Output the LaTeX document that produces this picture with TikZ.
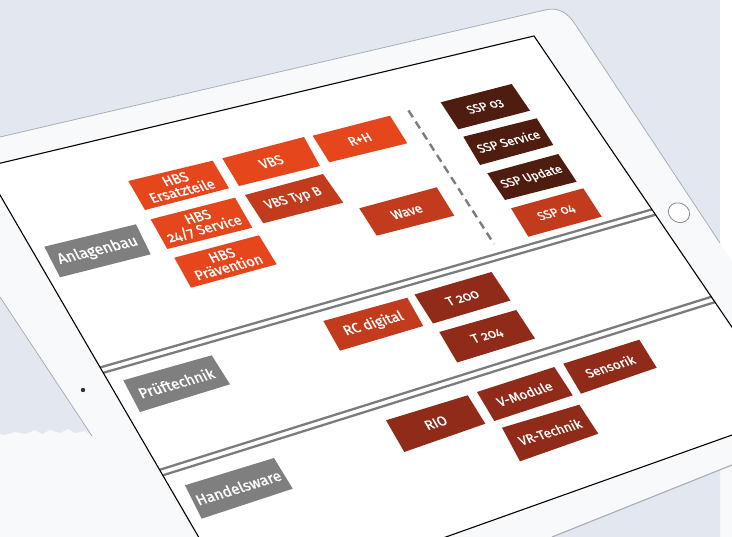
\documentclass[tikz,border=0pt]{standalone}
\usepackage{fontspec}
\setmainfont{Fira Sans}[Numbers=OldStyle]
\newfontfamily\boxfont{Fira Sans}[Numbers=OldStyle,FakeBold=1.2]
\usetikzlibrary{calc}
\definecolor{bgblue}{HTML}{E3E8F0}
\definecolor{bezel}{HTML}{F8F9FA}
\definecolor{bezelline}{HTML}{A8AFB9}
\definecolor{cA}{HTML}{E6461B}
\definecolor{cB}{HTML}{C23B1C}
\definecolor{cC}{HTML}{8F2B18}
\definecolor{cD}{HTML}{4F1D10}
\definecolor{cG}{HTML}{7F7F7F}
\definecolor{sepgray}{HTML}{7C7C7C}
\tikzset{
  btxt/.style={text=white, font=\boxfont\fontsize{12.5}{11.8}\selectfont, align=center, inner sep=0pt},
  sepline/.style={draw=sepgray, line width=2.3pt},
  dashsep/.style={draw=sepgray, line width=2.4pt, dash pattern=on 8pt off 5.2pt},
  screenedge/.style={draw=black, line width=1.1pt, line join=miter},
  bezeledge/.style={draw=bezelline, line width=0.8pt}
}
% name, fill, TL, TR, BR, BL, text transform, text
\newcommand\pbox[8]{%
  \fill[#2] (#3) -- (#4) -- (#5) -- (#6) -- cycle;
  \node[btxt,#7] (#1) at ($($(#3)!0.5!(#5)$)!0.5!($(#4)!0.5!(#6)$)$) {#8};
}
\begin{document}
\begin{tikzpicture}[x=1pt,y=-1pt]
\useasboundingbox (0,0) rectangle (732,537);
\clip (0,0) rectangle (732,537);
% background
\fill[bgblue] (0,0) rectangle (720,537);
\fill[white] (720,0) rectangle (732,537);
% iPad body
\fill[bezel] (0,137) -- (545,10) .. controls (560,6.5) and (568,14) .. (575,24)
  -- (720,243) -- (732,261) -- (732,537) -- (0,537) -- cycle;
% visible background patches
\fill[bgblue] (0,297) -- (92,436) -- (85,431) -- (75,433) -- (68,429) -- (60,433)
  -- (50,430) -- (42,434) -- (35,430) -- (25,434) -- (15,432) -- (5,435) -- (0,434) -- cycle;
\fill[bgblue] (552,537) -- (720,470) -- (720,537) -- cycle;
% bezel outline
\draw[bezeledge] (0,137) -- (545,10) .. controls (560,6.5) and (568,14) .. (575,24) -- (720,243);
\draw[bezeledge] (0,297) -- (92,436);
\draw[bezeledge, line width=1.2pt] (552,537) -- (732,465);
% screen
\coordinate (sTL) at (-16.2,167.1);
\coordinate (sTR) at (534,36);
\coordinate (sBR) at (791,414);
\coordinate (sBL) at (241,610);
\fill[white] (sTL) -- (sTR) -- (sBR) -- (sBL) -- cycle;
\begin{scope}
  \clip (sTL) -- (sTR) -- (sBR) -- (sBL) -- cycle;
  % separators
  \draw[sepline] (0,396.1) -- (732,186.5);
  \draw[sepline] (0,402.4) -- (732,192.8);
  \draw[sepline] (0,519.9) -- (732,290.3);
  \draw[sepline] (0,526.4) -- (732,296.8);
  \draw[dashsep] (408.5,110.5) -- (494,244);
\end{scope}
% boxes
\pbox{hbsE}{cA}{128.3,181}{212.7,160.7}{229,188.3}{145,210}{rotate=13.5,xslant=-0.29,scale=1.12}{HBS\\Ersatzteile}
\pbox{vbs}{cA}{222.3,158.3}{304,137}{320,166}{239,186}{rotate=14.6,xslant=-0.30,scale=1.09}{VBS}
\pbox{rh}{cA}{312.7,135.7}{390,115.7}{407.3,143.3}{329.3,162.3}{rotate=14.5,xslant=-0.32,scale=1.03}{R+H}
\pbox{vbstb}{cB}{245,195}{323,174}{343.3,202.7}{263.3,223.3}{rotate=15.1,xslant=-0.32,scale=1.04}{VBS Typ B}
\pbox{hbsS}{cA}{150.7,219.3}{235,197.7}{252.3,227.7}{167.3,249}{rotate=14.4,xslant=-0.26,scale=1.12}{HBS\\24/7 Service}
\pbox{hbsP}{cA}{174.3,257.7}{259,235.3}{276.7,264.3}{191,287.7}{rotate=14.8,xslant=-0.26,scale=1.13}{HBS\\Prävention}
\pbox{anl}{cG}{44.3,246.7}{136,224.3}{150.7,254.3}{60,277.3}{rotate=13.7,xslant=-0.24,scale=1.22}{Anlagenbau}
\pbox{wave}{cB}{359.3,208.3}{436.7,187.3}{454.3,215.7}{376.7,235.7}{rotate=15.2,xslant=-0.31,scale=1.04}{Wave}
\pbox{sspA}{cD}{440.7,102.3}{511.7,84}{530,110.7}{458.3,129.3}{rotate=14.5,xslant=-0.34,scale=0.95}{SSP 03}
\pbox{sspS}{cD}{463.3,136.7}{536.7,118.3}{553.3,145}{480,165}{rotate=14.1,xslant=-0.29,scale=0.98}{SSP Service}
\pbox{sspU}{cD}{487.3,173.3}{558.3,154}{576.7,181.7}{505,200}{rotate=15.2,xslant=-0.33,scale=0.95}{SSP Update}
\pbox{sspB}{cB}{511,208.3}{583.3,188.3}{601.7,216.7}{528.3,236.7}{rotate=15.5,xslant=-0.29,scale=0.97}{SSP 04}
\pbox{rcd}{cB}{323.3,321}{407.3,297.7}{423.3,326}{340,350.7}{rotate=15.5,xslant=-0.25,scale=1.13}{RC digital}
\pbox{tA}{cC}{414.5,294.5}{491.5,272}{510.5,300.5}{433,323.5}{rotate=16.3,xslant=-0.29,scale=1.04}{T 200}
\pbox{tB}{cC}{439.3,332}{516.3,310}{535,338.5}{457.2,362.5}{rotate=15.9,xslant=-0.26,scale=1.03}{T 204}
\pbox{pruef}{cG}{123.3,380.3}{211.7,355.3}{230,384.3}{140,412}{rotate=15.8,xslant=-0.21,scale=1.19}{Prüftechnik}
\pbox{handel}{cG}{185,485.3}{274,458}{292.7,488.7}{201.7,518.7}{rotate=17.1,xslant=-0.17,scale=1.20}{Handelsware}
\pbox{rio}{cC}{386,420.3}{467.7,395.3}{485.3,423.7}{404.3,452}{rotate=17,xslant=-0.23,scale=1.10}{RIO}
\pbox{vmod}{cC}{477,392}{554.3,367}{572.7,395.3}{494.3,421}{rotate=17.9,xslant=-0.23,scale=1.05}{V-Module}
\pbox{sens}{cC}{563.3,363.7}{639.3,339.7}{656.7,367.7}{581,393.7}{rotate=17.5,xslant=-0.23,scale=1.03}{Sensorik}
\pbox{vrt}{cC}{502,427.7}{579.3,404.7}{598.3,433.7}{520,461.3}{rotate=16.6,xslant=-0.21,scale=1.04}{VR-Technik}
% screen border
\draw[screenedge] (sTL) -- (sTR) -- (sBR) -- (sBL) -- cycle;
% camera and home button
\fill[black!80] (83,390) circle[radius=2.2pt];
\draw[bezelline!80!black, line width=0.8pt, fill=white] (679,212.7) ellipse [x radius=11pt, y radius=9.5pt, rotate=-30];
\end{tikzpicture}
\end{document}
